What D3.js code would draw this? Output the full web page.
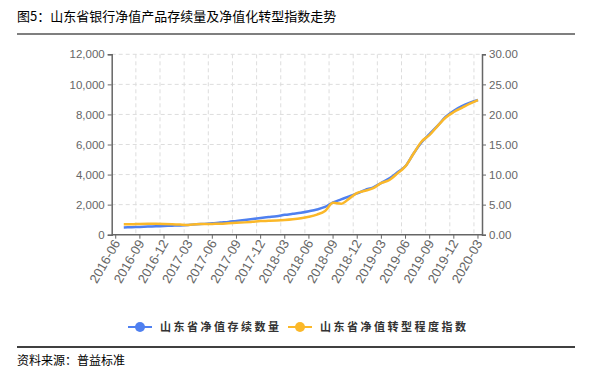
<!DOCTYPE html>
<html><head><meta charset="utf-8">
<script src="https://cdn.jsdelivr.net/npm/d3@7"></script>
<style>
body{margin:0;background:#fff;}
svg{display:block;font-family:"Noto Sans CJK SC","Noto Sans",sans-serif;}
</style></head>
<body><svg id="c" width="593" height="378"></svg>
<script>
const months = [];
for (let y = 2016, m = 6; !(y === 2020 && m === 4); ) {
  months.push(y + "-" + String(m).padStart(2, "0"));
  m++; if (m > 12) { m = 1; y++; }
}
const categories = months; // 2016-06 .. 2020-03
const countValues = [null,
  480, 500, 520, 540, 560, 580,
  600, 620, 650, 690, 720, 760, 810, 850, 920, 980, 1040, 1110,
  1170, 1230, 1320, 1390, 1460, 1560, 1680, 1850, 2150, 2350, 2550, 2750,
  2980, 3150, 3450, 3750, 4150, 4570, 5400, 6150, 6700, 7250, 7850, 8250,
  8550, 8780, 8960];
const indexValues = [null,
  1.75, 1.74, 1.8, 1.82, 1.82, 1.8,
  1.75, 1.68, 1.63, 1.74, 1.77, 1.8, 1.83, 1.9, 1.97, 2.05, 2.15, 2.26,
  2.3, 2.35, 2.43, 2.55, 2.72, 2.98, 3.35, 3.95, 5.3, 5.15, 6.0, 6.95,
  7.3, 7.75, 8.6, 9.1, 10.2, 11.4, 13.5, 15.5, 16.6, 18.1, 19.5, 20.4,
  21.1, 21.8, 22.4];
const leftTicks = [0, 2000, 4000, 6000, 8000, 10000, 12000];
const rightTicks = [0, 5, 10, 15, 20, 25, 30];
const seriesNames = ["山东省净值存续数量", "山东省净值转型程度指数"];
const colors = ["#4f80f0", "#fbb829"];

const svg = d3.select("#c");
const L = 111.7, R = 482, T = 54.3, B = 234.7;

const x = d3.scaleBand().domain(categories).range([L, R]).padding(0);
const yL = d3.scaleLinear().domain([0, 12000]).range([B, T]);
const yR = d3.scaleLinear().domain([0, 30]).range([B, T]);

// title
svg.append("text").attr("x", 17).attr("y", 21).attr("font-size", 13).attr("fill", "#000")
  .text("图5：山东省银行净值产品存续量及净值化转型指数走势");
svg.append("line").attr("x1", 17).attr("x2", 575).attr("y1", 34).attr("y2", 34)
  .attr("stroke", "#000").attr("stroke-width", 1.2);
svg.append("line").attr("x1", 17).attr("x2", 575).attr("y1", 347).attr("y2", 347)
  .attr("stroke", "#000").attr("stroke-width", 1.5);
svg.append("text").attr("x", 17).attr("y", 365).attr("font-size", 12).attr("fill", "#000")
  .text("资料来源：普益标准");

// grid
const grid = svg.append("g");
leftTicks.slice(1).forEach(v => {
  grid.append("line").attr("x1", L).attr("x2", R).attr("y1", yL(v)).attr("y2", yL(v))
    .attr("stroke", "#ddd").attr("stroke-dasharray", "4,3");
});
categories.forEach((c, i) => {
  if (i % 3 === 0 && i > 0) {
    grid.append("line").attr("x1", x(c)).attr("x2", x(c)).attr("y1", T).attr("y2", B)
      .attr("stroke", "#ddd").attr("stroke-dasharray", "4,3");
  }
});

// axes
const axisColor = "#666";
const gL = svg.append("g").attr("transform", `translate(${L},0)`)
  .call(d3.axisLeft(yL).tickValues(leftTicks).tickSize(4).tickPadding(3).tickFormat(d3.format(",")));
const gR = svg.append("g").attr("transform", `translate(${R},0)`)
  .call(d3.axisRight(yR).tickValues(rightTicks).tickSize(4).tickPadding(3).tickFormat(d3.format(".2f")));
const gB = svg.append("g").attr("transform", `translate(0,${B})`)
  .call(d3.axisBottom(x).tickValues(categories.filter((c, i) => i % 3 === 0)).tickSize(4).tickPadding(3));
[gL, gR, gB].forEach(g => {
  g.select(".domain").attr("stroke", axisColor).attr("stroke-width", 1.5);
  g.selectAll(".tick line").attr("stroke", axisColor);
  g.selectAll("text").attr("fill", "#666").attr("font-size", 11.5)
    .attr("font-family", "'Liberation Sans', Arial, sans-serif");
});
gB.select(".domain").attr("d", `M${L},0H${R}`);
gB.selectAll("text").attr("text-anchor", "end").attr("font-size", 13)
  .attr("transform", "translate(1,6) rotate(-60)").attr("dy", "0.35em").attr("y", 0).attr("x", 0);

// lines
const cx = d => x(d) + x.bandwidth() / 2;
const lineL = d3.line().defined(d => d[1] != null).x(d => cx(d[0])).y(d => yL(d[1])).curve(d3.curveMonotoneX);
const lineR = d3.line().defined(d => d[1] != null).x(d => cx(d[0])).y(d => yR(d[1])).curve(d3.curveMonotoneX);
svg.append("path").datum(categories.map((c, i) => [c, countValues[i]]))
  .attr("d", lineL).attr("fill", "none").attr("stroke", colors[0]).attr("stroke-width", 2.5);
svg.append("path").datum(categories.map((c, i) => [c, indexValues[i]]))
  .attr("d", lineR).attr("fill", "none").attr("stroke", colors[1]).attr("stroke-width", 2.5);

// legend
const legendItems = [{x: 128, name: seriesNames[0], color: colors[0]}, {x: 288, name: seriesNames[1], color: colors[1]}];
legendItems.forEach(it => {
  const g = svg.append("g").attr("transform", `translate(${it.x},327)`);
  g.append("line").attr("x1", 0).attr("x2", 24).attr("stroke", it.color).attr("stroke-width", 2);
  g.append("circle").attr("cx", 12).attr("r", 5).attr("fill", it.color);
  g.append("text").attr("x", 32).attr("y", 0).attr("dy", "0.35em").attr("font-size", 11)
    .attr("font-weight", "bold").attr("fill", "#333").attr("letter-spacing", 2.5).text(it.name);
});
</script></body></html>
